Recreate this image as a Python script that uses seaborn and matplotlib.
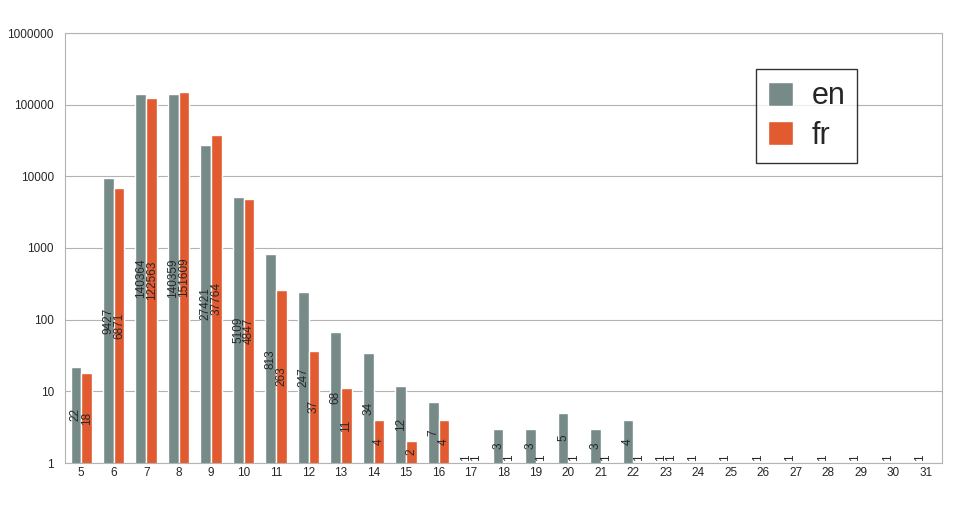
import numpy as np
import pandas as pd
import seaborn as sns
import matplotlib.pyplot as plt
from matplotlib.ticker import FixedLocator, NullLocator

lengths = list(range(5, 32))
en = [22, 9427, 140364, 140359, 27421, 5109, 813, 247, 68, 34, 12, 7, 1, 3, 3, 5, 3, 4, 1,
      1, 1, 1, 1, 1, 1, 1, 1]
fr = [18, 6871, 122563, 151609, 37764, 4847, 263, 37, 11, 4, 2, 4, 1, 1, 1, 1, 1, 1, 1,
      np.nan, np.nan, np.nan, np.nan, np.nan, np.nan, np.nan, np.nan]

df = pd.DataFrame({
    "len": [str(l) for l in lengths] * 2,
    "count": en + fr,
    "lang": ["en"] * len(lengths) + ["fr"] * len(lengths),
})

sns.set_style("white")
plt.rcParams["font.family"] = ["Liberation Sans", "DejaVu Sans"]

fig = plt.figure(figsize=(9.68, 5.16), dpi=100)
ax = fig.add_axes([65 / 968, 53 / 516, 877 / 968, 430 / 516])

sns.barplot(data=df, x="len", y="count", hue="lang",
            palette={"en": "#728f8b", "fr": "#ff4a12"},
            width=0.66, gap=0, ax=ax)
ax.set_yscale("log")
ax.set_ylim(1, 1e6)
ax.set_xlim(-0.5, len(lengths) - 0.5)

for cont in ax.containers:
    for bar in cont:
        h = bar.get_height()
        if not np.isfinite(h) or h <= 0:
            continue
        ymid = max(np.sqrt(h), 1.17)
        ax.text(bar.get_x() + bar.get_width() / 2, ymid, f"{int(round(h))}",
                rotation=90, ha="center", va="center", fontsize=8.5)

ax.yaxis.set_major_locator(FixedLocator([1, 10, 100, 1000, 10000, 100000, 1000000]))
ax.yaxis.set_minor_locator(NullLocator())
ax.set_yticklabels(["1", "10", "100", "1000", "10000", "100000", "1000000"], fontsize=8.5)
ax.grid(axis="y", color="#b3b3b3", linewidth=0.8)
ax.set_axisbelow(True)
ax.xaxis.set_minor_locator(FixedLocator(np.arange(-0.5, len(lengths), 1)))
ax.tick_params(axis="x", which="major", length=0, labelsize=8.5)
ax.tick_params(axis="x", which="minor", length=5, color="#b3b3b3", direction="out")
ax.tick_params(axis="y", length=5, color="#b3b3b3", direction="out")
ax.tick_params(axis="both", pad=3)
ax.set_xlabel("")
ax.set_ylabel("")
for s in ax.spines.values():
    s.set_color("#b3b3b3")

ax.legend(title=None, loc="upper left", bbox_to_anchor=(676 / 877, 1 - 21 / 430),
          fontsize=22, frameon=True, fancybox=False, edgecolor="black",
          handlelength=0.8, handleheight=0.8, handletextpad=0.6, borderpad=0.4,
          labelspacing=0.3)

fig.savefig("out.png", dpi=100)
